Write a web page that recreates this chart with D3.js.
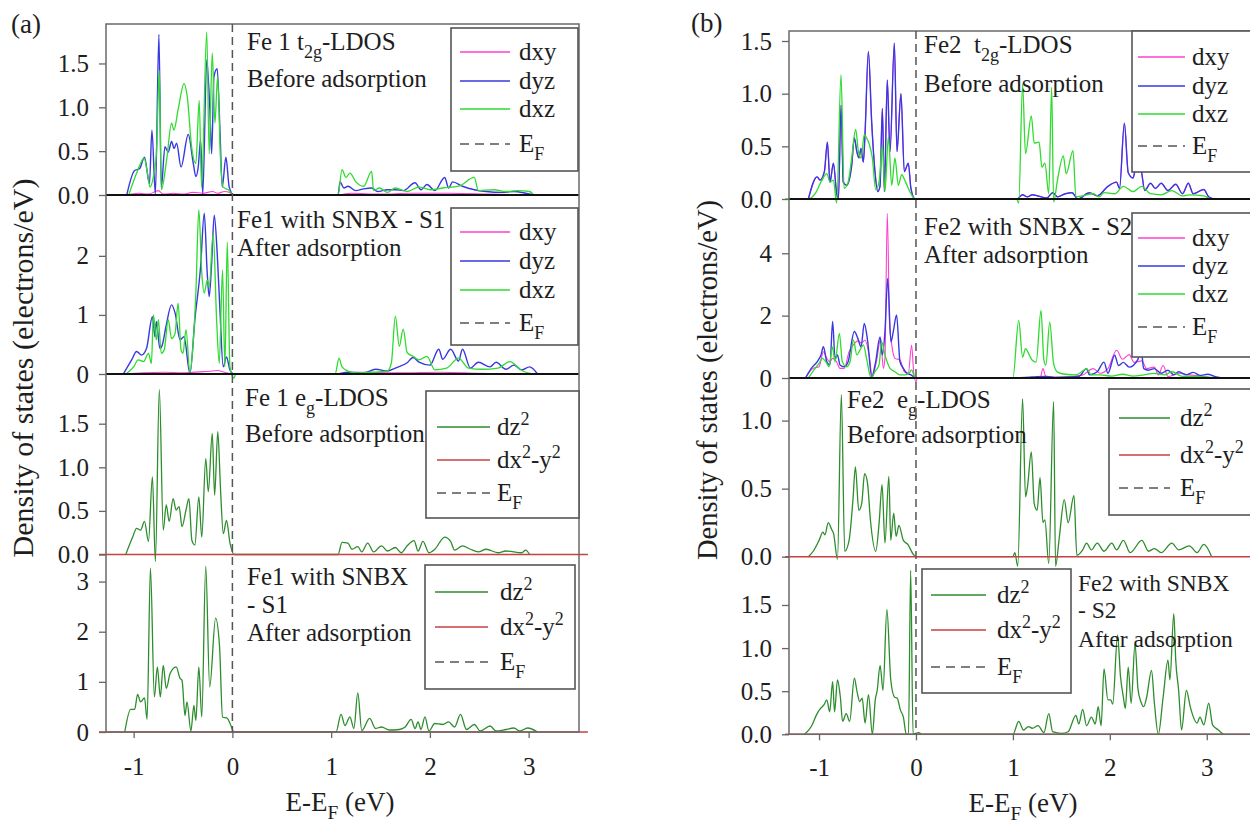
<!DOCTYPE html>
<html>
<head>
<meta charset="utf-8">
<script src="https://cdn.jsdelivr.net/npm/d3@7"></script>
<style>
body{margin:0;background:#fff;}
svg text{font-family:"Liberation Serif","Times New Roman","DejaVu Serif",serif;fill:#1e1e1e;white-space:pre;}
</style>
</head>
<body>
<svg id="chart" width="1250" height="823" font-family="Liberation Serif, Times New Roman, DejaVu Serif, serif"></svg>
<script>
// ---- data (energy E-EF in eV, DOS in electrons/eV) ----
var xTicks = [-1, 0, 1, 2, 3];

// (a) Fe1 t2g before adsorption
var a1Dxy = [[-1.07,0],[-0.95,0.02],[-0.85,0.01],[-0.75,0.05],[-0.70,0.01],[-0.6,0.02],[-0.5,0.01],[-0.4,0.03],[-0.3,0.02],[-0.2,0.04],[-0.15,0.02],[-0.08,0.04],[-0.03,0.03],[0.015,0],[1.07,0],[1.2,0.02],[1.5,0.01],[1.8,0.02],[2.2,0.02],[2.6,0.01],[3.0,0]];
var a1Dyz = [[-1.07,0],[-0.99,0.28],[-0.94,0.30],[-0.89,0.43],[-0.84,0.13],[-0.815,0.74],[-0.78,0.01],[-0.744,1.83],[-0.72,0.09],[-0.683,0.55],[-0.65,0.49],[-0.616,0.61],[-0.59,0.53],[-0.565,0.59],[-0.52,0.32],[-0.447,0.69],[-0.396,0.36],[-0.37,0.21],[-0.346,0.32],[-0.322,0.63],[-0.30,0.01],[-0.26,1.54],[-0.228,0.97],[-0.21,0.47],[-0.187,1.35],[-0.154,1.44],[-0.126,0.74],[-0.103,0.09],[-0.066,0.43],[-0.032,0.09],[0.015,0],
  [1.07,0],[1.09,0.15],[1.13,0.08],[1.17,0.1],[1.25,0.05],[1.33,0.07],[1.41,0.08],[1.47,0.04],[1.57,0.06],[1.65,0.06],[1.73,0.05],[1.85,0.14],[1.91,0.06],[1.97,0.12],[2.05,0.05],[2.15,0.2],[2.19,0.08],[2.23,0.15],[2.33,0.1],[2.45,0.06],[2.57,0.04],[2.73,0.03],[2.85,0.04],[2.97,0.02],[3.05,0]];
var a1Dxz = [[-1.05,0],[-0.97,0.25],[-0.93,0.36],[-0.895,0.42],[-0.86,0.25],[-0.835,0.09],[-0.80,0.21],[-0.77,0.47],[-0.74,1.42],[-0.72,0.06],[-0.666,0.40],[-0.616,0.82],[-0.592,0.74],[-0.55,0.97],[-0.49,1.27],[-0.457,1.12],[-0.413,0.55],[-0.37,0.36],[-0.336,1.08],[-0.312,0.09],[-0.26,1.86],[-0.235,0.47],[-0.204,1.62],[-0.177,0.82],[-0.15,1.35],[-0.12,0.40],[-0.093,0.09],[-0.042,0.06],[0.015,0],
  [1.07,0],[1.11,0.29],[1.15,0.2],[1.19,0.25],[1.25,0.15],[1.33,0.1],[1.41,0.27],[1.43,0.05],[1.49,0.08],[1.57,0.03],[1.65,0.08],[1.77,0.04],[1.89,0.09],[2.01,0.06],[2.13,0.08],[2.29,0.1],[2.45,0.2],[2.49,0.05],[2.65,0.06],[2.77,0.04],[2.89,0.05],[3.01,0.04],[3.05,0]];

// (a) Fe1 t2g after adsorption (SNBX - S1)
var a2Dxy = [[-1.1,0],[-0.9,0.02],[-0.7,0.03],[-0.5,0.02],[-0.3,0.04],[-0.2,0.05],[-0.15,0.06],[-0.08,0.03],[0.015,0],[1.05,0],[1.3,0.03],[1.7,0.02],[2.1,0.03],[2.5,0.01],[2.8,0]];
var a2Dyz = [[-1.105,0],[-1.02,0.24],[-0.97,0.38],[-0.92,0.32],[-0.87,0.43],[-0.81,0.97],[-0.784,0.63],[-0.77,0.89],[-0.734,0.43],[-0.71,0.49],[-0.673,0.80],[-0.616,1.17],[-0.58,1.03],[-0.53,0.58],[-0.49,0.63],[-0.43,0.01],[-0.38,0.92],[-0.322,1.82],[-0.285,2.72],[-0.255,1.71],[-0.235,1.31],[-0.21,1.88],[-0.184,2.69],[-0.154,2.05],[-0.126,1.08],[-0.093,0.12],[-0.06,0.29],[-0.025,0.07],[0.015,0],
  [1.04,0],[1.17,0.03],[1.33,0.02],[1.45,0.08],[1.57,0.05],[1.65,0.1],[1.77,0.19],[1.83,0.28],[1.89,0.2],[2.0,0.15],[2.09,0.42],[2.13,0.25],[2.21,0.42],[2.29,0.22],[2.33,0.42],[2.41,0.1],[2.49,0.2],[2.61,0.12],[2.67,0.2],[2.77,0.08],[2.85,0.15],[2.93,0.07],[3.01,0.12],[3.09,0]];
var a2Dxz = [[-1.08,0],[-1.0,0.12],[-0.955,0.24],[-0.9,0.21],[-0.85,0.35],[-0.82,0.18],[-0.8,1.0],[-0.77,0.58],[-0.75,0.92],[-0.72,0.35],[-0.69,0.41],[-0.65,0.92],[-0.616,0.6],[-0.58,0.69],[-0.55,1.2],[-0.52,0.41],[-0.5,0.35],[-0.47,0.75],[-0.43,0.02],[-0.4,0.46],[-0.37,1.37],[-0.34,2.78],[-0.31,1.71],[-0.285,1.37],[-0.255,1.59],[-0.235,1.48],[-0.194,2.38],[-0.16,0.92],[-0.133,0.18],[-0.1,1.76],[-0.076,0.12],[-0.052,2.23],[-0.025,0.12],[0.015,-0.07],[0.035,0],
  [1.04,0],[1.08,0.27],[1.11,0.12],[1.17,0.05],[1.25,0.02],[1.41,0.03],[1.57,0.05],[1.61,0.19],[1.65,0.98],[1.69,0.47],[1.73,0.76],[1.77,0.36],[1.83,0.3],[1.89,0.24],[1.97,0.3],[2.05,0.07],[2.17,0.1],[2.29,0.27],[2.39,0.1],[2.53,0.08],[2.69,0.1],[2.81,0.21],[2.93,0.06],[3.05,0]];

// (a) Fe1 eg before / after
var a3Dz2 = [[-1.08,0],[-1.01,0.2],[-0.97,0.3],[-0.93,0.28],[-0.89,0.38],[-0.85,0.15],[-0.81,0.89],[-0.78,-0.08],[-0.74,1.89],[-0.70,0.28],[-0.67,0.57],[-0.64,0.38],[-0.6,0.64],[-0.57,0.51],[-0.54,0.55],[-0.51,0.32],[-0.47,0.51],[-0.44,0.64],[-0.41,0.16],[-0.38,0.11],[-0.34,0.66],[-0.31,0.2],[-0.27,1.1],[-0.244,0.72],[-0.204,1.39],[-0.18,0.68],[-0.148,1.41],[-0.12,0.74],[-0.092,0.24],[-0.06,0.39],[-0.024,0.13],[0.016,0],
  [1.07,0],[1.11,0.14],[1.17,0.13],[1.21,0.06],[1.27,0.09],[1.31,0.03],[1.37,0.13],[1.43,0.03],[1.51,0.1],[1.57,0.04],[1.65,0.08],[1.71,0.02],[1.77,0.1],[1.84,0.16],[1.88,0.04],[1.93,0.15],[1.99,0.02],[2.05,0.06],[2.15,0.2],[2.21,0.15],[2.25,0.05],[2.33,0.1],[2.41,0.06],[2.49,0.03],[2.57,0.06],[2.69,0.02],[2.77,0.04],[2.93,0.02],[2.97,0.05],[3.01,0]];
var a3Dx2y2 = [[-1.35,0],[3.6,0]];
var a4Dz2 = [[-1.09,0],[-1.03,0.45],[-0.99,0.45],[-0.96,0.75],[-0.93,0.6],[-0.89,0.68],[-0.864,0.25],[-0.83,3.27],[-0.79,0.7],[-0.76,1.3],[-0.73,0.7],[-0.70,1.33],[-0.67,0.87],[-0.63,1.17],[-0.57,1.3],[-0.53,1.07],[-0.51,1.03],[-0.48,0.33],[-0.46,0.6],[-0.42,0.02],[-0.39,0.53],[-0.37,0.23],[-0.34,1.3],[-0.31,0.3],[-0.27,3.31],[-0.23,0.9],[-0.17,2.27],[-0.13,1.7],[-0.1,0.3],[-0.05,0.27],[-0.024,0.17],[0.016,0],
  [1.05,0],[1.1,0.35],[1.14,0.13],[1.19,0.3],[1.23,0.07],[1.27,0.78],[1.31,0.03],[1.39,0.27],[1.45,0.07],[1.51,0.1],[1.59,0.04],[1.69,0.05],[1.75,0.1],[1.81,0.25],[1.85,0.07],[1.88,0.2],[1.91,0.05],[1.95,0.3],[1.99,0.02],[2.05,0.17],[2.13,0.15],[2.19,0.2],[2.25,0.1],[2.31,0.35],[2.37,0.05],[2.45,0.15],[2.51,0.02],[2.61,0.12],[2.67,0.02],[2.77,0.05],[2.85,0.08],[2.91,0.02],[2.99,0.08],[3.09,0]];
var a4Dx2y2 = [[-1.35,0],[3.6,0]];

// (b) Fe2 t2g before adsorption (dxy lies under dyz)
var b1Dyz = [[-1.11,0],[-1.02,0.21],[-0.99,0.18],[-0.945,0.26],[-0.914,0.54],[-0.887,0.16],[-0.852,0.34],[-0.818,0.05],[-0.8,0],[-0.773,0.89],[-0.75,0.16],[-0.715,0.13],[-0.663,0.32],[-0.636,0.58],[-0.61,0.45],[-0.588,0.39],[-0.567,0.48],[-0.543,0.35],[-0.526,0.61],[-0.491,1.4],[-0.457,0.73],[-0.423,0.26],[-0.395,0.07],[-0.371,0.12],[-0.347,0.86],[-0.326,0.07],[-0.296,1.13],[-0.268,0.45],[-0.223,1.48],[-0.196,0.45],[-0.155,1.0],[-0.12,0.26],[-0.079,0.34],[-0.052,0.1],[-0.01,0],
  [1.04,0],[1.1,0.04],[1.15,0.02],[1.2,0.04],[1.35,0.01],[1.41,0.06],[1.46,0.02],[1.54,0.05],[1.61,0.06],[1.67,0],[1.79,0.06],[1.87,0.03],[1.98,0.12],[2.07,0.16],[2.1,0.1],[2.15,0.72],[2.19,0.25],[2.24,0.2],[2.27,0.3],[2.32,0.28],[2.36,0.08],[2.42,0.15],[2.47,0.1],[2.53,0.15],[2.6,0.08],[2.68,0.14],[2.75,0.05],[2.81,0.15],[2.86,0.05],[2.97,0.09],[3.02,0.02],[3.08,0]];
var b1Dxy = b1Dyz;
var b1Dxz = [[-1.35,0],[-1.11,0],[-1.04,0.05],[-0.97,0.18],[-0.92,0.24],[-0.887,0.16],[-0.852,0.18],[-0.818,-0.04],[-0.773,1.18],[-0.742,0.1],[-0.7,0.16],[-0.663,0.39],[-0.622,0.66],[-0.594,0.45],[-0.567,0.39],[-0.533,0.61],[-0.51,0.58],[-0.485,0.53],[-0.45,0.39],[-0.416,0.09],[-0.381,0.16],[-0.347,0.51],[-0.32,0.07],[-0.285,0.59],[-0.25,0.13],[-0.217,0.39],[-0.182,0.13],[-0.148,0.23],[-0.107,0.16],[-0.052,0.05],[-0.01,0],
  [1.04,0],[1.06,-0.04],[1.1,1.09],[1.13,0.43],[1.19,0.79],[1.22,0.53],[1.27,0.54],[1.3,0.3],[1.33,0.34],[1.37,0.05],[1.4,1.06],[1.42,-0.03],[1.46,0.18],[1.52,0.41],[1.55,0.24],[1.62,0.46],[1.65,0.02],[1.72,0.03],[1.83,0.05],[1.89,0.02],[1.94,0.06],[2.05,0.05],[2.14,0.12],[2.24,0.07],[2.33,0.12],[2.42,0.05],[2.53,0.04],[2.64,0.08],[2.75,0.03],[2.82,0.04],[2.97,0.03],[3.05,0],[3.6,0]];

// (b) Fe2 t2g after adsorption (SNBX - S2)
var b2Dxy = [[-1.14,0],[-1.06,0.31],[-1.0,0.36],[-0.955,0.84],[-0.92,0.63],[-0.887,0.52],[-0.86,0.63],[-0.82,0.52],[-0.784,0.31],[-0.74,0.31],[-0.69,0.84],[-0.646,1.06],[-0.6,1.19],[-0.56,1.12],[-0.526,1.22],[-0.484,0.74],[-0.45,0.04],[-0.405,0.58],[-0.364,1.27],[-0.337,0.31],[-0.32,0.63],[-0.296,5.28],[-0.272,1.7],[-0.25,1.06],[-0.217,0.63],[-0.165,0.58],[-0.12,0.2],[-0.079,0.15],[-0.045,1.06],[-0.024,0.2],[0.0,-0.12],[0.014,0],
  [1.28,0],[1.31,0.3],[1.34,0.05],[1.53,0.02],[1.72,0.1],[1.83,0.3],[1.9,0.15],[1.98,0.3],[2.07,0.89],[2.13,0.6],[2.2,0.75],[2.25,0.5],[2.33,0.55],[2.38,0.3],[2.46,0.35],[2.5,0.1],[2.55,0.4],[2.6,0.05],[2.71,0.15],[2.82,0.1],[2.97,0.05],[3.05,0]];
var b2Dyz = [[-1.14,0],[-1.08,0.31],[-1.02,0.52],[-0.98,0.74],[-0.955,1.0],[-0.92,0.52],[-0.887,0.42],[-0.86,1.81],[-0.835,0.63],[-0.81,0.74],[-0.784,0.42],[-0.74,0.36],[-0.7,0.52],[-0.636,1.49],[-0.6,1.27],[-0.567,1.0],[-0.533,1.75],[-0.498,1.17],[-0.457,0.04],[-0.416,0.52],[-0.371,1.32],[-0.347,0.74],[-0.32,1.49],[-0.292,3.19],[-0.258,1.16],[-0.234,1.49],[-0.2,2.02],[-0.165,0.52],[-0.13,0.31],[-0.096,0.16],[-0.052,0.1],[0,0],
  [1.0,0],[1.2,0.03],[1.35,0.05],[1.43,0.02],[1.57,0.03],[1.68,0.05],[1.76,0.3],[1.79,0.1],[1.87,0.2],[1.94,0.51],[1.98,0.15],[2.05,0.73],[2.09,0.4],[2.14,0.5],[2.2,0.35],[2.29,0.6],[2.32,0.99],[2.35,0.3],[2.4,0.25],[2.46,0.3],[2.53,0.15],[2.6,0.25],[2.66,0.1],[2.71,0.2],[2.79,0.1],[2.86,0.18],[2.93,0.08],[3.01,0.12],[3.08,0.05],[3.16,0]];
var b2Dxz = [[-1.11,0],[-1.04,0.31],[-1.0,0.47],[-0.966,0.63],[-0.93,0.52],[-0.897,0.36],[-0.862,1.0],[-0.835,0.52],[-0.79,1.43],[-0.76,0.52],[-0.715,0.36],[-0.68,0.52],[-0.646,1.22],[-0.61,0.74],[-0.577,0.9],[-0.543,1.06],[-0.51,0.63],[-0.464,0.01],[-0.423,0.2],[-0.381,0.42],[-0.354,1.16],[-0.32,0.74],[-0.268,0.31],[-0.217,0.2],[-0.165,0.1],[-0.113,0.1],[-0.072,0.15],[-0.045,0.26],[-0.01,0.01],
  [1.0,0],[1.06,1.85],[1.1,0.67],[1.13,0.94],[1.17,0.73],[1.2,0.57],[1.24,0.51],[1.29,2.17],[1.32,0.57],[1.34,0.41],[1.38,1.79],[1.42,0.46],[1.46,0.19],[1.54,0.12],[1.65,0.1],[1.72,0.22],[1.76,0.3],[1.81,0.1],[1.9,0.1],[2.02,0.06],[2.13,0.12],[2.24,0.06],[2.35,0.1],[2.46,0.15],[2.57,0.1],[2.64,0.2],[2.75,0.05],[2.9,0.05],[3.05,0.02],[3.12,0]];

// (b) Fe2 eg before / after
var b3Dz2 = [[-1.11,0],[-1.06,0.04],[-1.0,0.12],[-0.96,0.18],[-0.94,0.16],[-0.905,0.25],[-0.87,0.2],[-0.85,0.17],[-0.81,-0.02],[-0.77,1.19],[-0.735,0.04],[-0.69,0.12],[-0.65,0.42],[-0.625,0.66],[-0.59,0.34],[-0.56,0.39],[-0.53,0.61],[-0.5,0.54],[-0.47,0.27],[-0.415,0.04],[-0.38,0.25],[-0.35,0.53],[-0.32,0.1],[-0.28,0.59],[-0.26,0.12],[-0.23,0.32],[-0.205,0.15],[-0.176,0.23],[-0.13,0.12],[-0.084,0.09],[-0.03,0.02],[0,0],
  [1.0,0],[1.02,0.03],[1.05,-0.07],[1.1,1.16],[1.13,0.44],[1.15,0.51],[1.19,0.77],[1.22,0.39],[1.25,0.34],[1.28,0.58],[1.31,0.25],[1.33,0.27],[1.37,-0.05],[1.42,1.14],[1.44,-0.07],[1.48,0.15],[1.53,0.42],[1.57,0.25],[1.63,0.45],[1.66,0.01],[1.72,0.05],[1.76,0.1],[1.81,0.05],[1.87,0.1],[1.94,0.04],[2.02,0.1],[2.07,0.05],[2.14,0.12],[2.21,0.03],[2.33,0.12],[2.4,0.04],[2.46,0.06],[2.53,0.03],[2.64,0.1],[2.71,0.05],[2.82,0.08],[2.9,0.03],[2.97,0.09],[3.05,0]];
var b3Dx2y2 = [[-1.35,0],[3.6,0]];
var b4Dz2 = [[-1.15,0],[-1.08,0.09],[-1.02,0.24],[-0.985,0.3],[-0.95,0.34],[-0.92,0.4],[-0.89,0.26],[-0.86,0.61],[-0.84,0.26],[-0.81,0.63],[-0.78,0.43],[-0.757,0.15],[-0.72,0.24],[-0.684,0.15],[-0.636,0.65],[-0.607,0.49],[-0.58,0.38],[-0.555,0.42],[-0.525,0.13],[-0.49,0.46],[-0.45,0],[-0.42,0.4],[-0.4,0.51],[-0.37,0.8],[-0.34,0.51],[-0.3,1.45],[-0.26,0.63],[-0.22,0.43],[-0.195,0.42],[-0.16,0.28],[-0.13,0.2],[-0.1,0],[-0.077,0],[-0.055,1.9],[-0.03,0],[0.03,0.02],[0.06,0],
  [1.0,0],[1.06,0.15],[1.11,0.05],[1.16,0.09],[1.2,0.07],[1.26,0.1],[1.32,0.02],[1.37,0.24],[1.41,0.03],[1.5,0.01],[1.57,0.03],[1.65,0.22],[1.68,0.12],[1.72,0.29],[1.76,0.1],[1.81,0.2],[1.85,0.12],[1.88,0.32],[1.91,0.1],[1.94,0.76],[1.98,0.4],[2.01,0.4],[2.03,0.35],[2.08,1.15],[2.11,0.67],[2.14,0.43],[2.16,0.3],[2.19,0.78],[2.22,0.36],[2.26,1.05],[2.29,0.53],[2.32,0.38],[2.35,0.32],[2.38,0.43],[2.43,0.74],[2.46,0.36],[2.5,0],[2.55,0.43],[2.6,0.86],[2.62,0.63],[2.66,1.4],[2.68,0.86],[2.71,0.51],[2.74,0.05],[2.79,0.51],[2.83,0.32],[2.85,0.24],[2.9,0.13],[2.93,0.2],[2.97,0.11],[3.02,0.36],[3.06,0.11],[3.12,0.05],[3.17,0]];
var b4Dx2y2 = [[-1.35,0],[3.6,0]];

// y tick labels per sub panel
var a1Ticks = [0, 0.5, 1.0, 1.5], a2Ticks = [0, 1, 2], a3Ticks = [0, 0.5, 1.0, 1.5], a4Ticks = [0, 1, 2, 3];
var b1Ticks = [0, 0.5, 1.0, 1.5], b2Ticks = [0, 2, 4], b3Ticks = [0, 0.5, 1.0], b4Ticks = [0, 0.5, 1.0, 1.5];

// ---- styling ----
var FONT = "Liberation Serif, Times New Roman, DejaVu Serif, serif";
var colors = {dxy:"#ff3fcf", dyz:"#3838e2", dxz:"#2edb2e", dz2:"#2d8d2d", dx2y2:"#c84040"};
var widths = {dxy:1.1, dyz:1.4, dxz:1.3, dz2:1.3, dx2y2:1.5};
var lbl = {
	dxy: [["dxy"]], dyz: [["dyz"]], dxz: [["dxz"]],
	dz2: [["dz"],["2","sup"]], dx2y2: [["dx"],["2","sup"],["-y"],["2","sup"]],
	ef: [["E"],["F","sub"]]
};
var t2gKeys = ["dxy","dyz","dxz"], egKeys = ["dz2","dx2y2"];

var panels = [
	{label:"(a)", labelX:11, labelY:33, left:106, right:579, xDomain:[-1.28,3.51], titleX:340, titleY:811,
	 yTitleX:33, yTitleY:368, yTitleSize:30, tickGap:25,
	 subs:[
		{kind:"t2g", top:24, y0:195, max:1.95, ticks:a1Ticks, data:{dxy:a1Dxy, dyz:a1Dyz, dxz:a1Dxz},
		 text:{x:247, lines:[[50,[["Fe 1 t"],["2g","sub"],["-LDOS"]]],[87,[["Before adsorption"]]]]},
		 leg:{x:451, y:28, w:127, h:143, l1:460, l2:510, tx:519, rows:[52,81,109,144]}},
		{kind:"t2g", top:195, y0:374, max:3.03, ticks:a2Ticks, data:{dxy:a2Dxy, dyz:a2Dyz, dxz:a2Dxz},
		 text:{x:237, lines:[[228,[["Fe1 with SNBX - S1"]]],[256,[["After adsorption"]]]]},
		 leg:{x:451, y:208, w:127, h:137, l1:460, l2:510, tx:519, rows:[232,261,290,323]}},
		{kind:"eg", top:374, y0:554.5, max:2.07, ticks:a3Ticks, data:{dz2:a3Dz2, dx2y2:a3Dx2y2},
		 text:{x:245, lines:[[406,[["Fe 1 e"],["g","sub"],["-LDOS"]]],[442,[["Before adsorption"]]]]},
		 leg:{x:426, y:391, w:153, h:127, l1:437, l2:490, tx:497, rows:[427,460,493]}},
		{kind:"eg", top:554.5, y0:732, max:3.54, ticks:a4Ticks, data:{dz2:a4Dz2, dx2y2:a4Dx2y2},
		 text:{x:247, lines:[[585,[["Fe1 with SNBX"]]],[613,[["- S1"]]],[641,[["After adsorption"]]]]},
		 leg:{x:425, y:565, w:150, h:124, l1:435, l2:488, tx:500, rows:[592,627,662]}}
	]},
	{label:"(b)", labelX:691, labelY:32, left:789, right:1262, xDomain:[-1.31,3.57], titleX:1023, titleY:812,
	 yTitleX:717, yTitleY:380, yTitleSize:28.5, tickGap:24,
	 subs:[
		{kind:"t2g", top:31, y0:199, max:1.595, ticks:b1Ticks, data:{dxy:b1Dxy, dyz:b1Dyz, dxz:b1Dxz},
		 text:{x:924, lines:[[53,[["Fe2  t"],["2g","sub"],["-LDOS"]]],[92,[["Before adsorption"]]]]},
		 leg:{x:1132, y:31, w:130, h:141, l1:1138, l2:1185, tx:1192, rows:[57,86,114,146]}},
		{kind:"t2g", top:199, y0:378, max:5.74, ticks:b2Ticks, data:{dxy:b2Dxy, dyz:b2Dyz, dxz:b2Dxz},
		 text:{x:924, lines:[[235,[["Fe2 with SNBX - S2"]]],[263,[["After adsorption"]]]]},
		 leg:{x:1132, y:213, w:130, h:144, l1:1138, l2:1185, tx:1192, rows:[238,266,294,327]}},
		{kind:"eg", top:378, y0:556.7, max:1.313, ticks:b3Ticks, data:{dz2:b3Dz2, dx2y2:b3Dx2y2},
		 text:{x:847, lines:[[408,[["Fe2  e"],["g","sub"],["-LDOS"]]],[443,[["Before adsorption"]]]]},
		 leg:{x:1109, y:389, w:153, h:126, l1:1119, l2:1170, tx:1180, rows:[418,455,488]}},
		{kind:"eg", top:556.7, y0:734.3, max:2.06, ticks:b4Ticks, data:{dz2:b4Dz2, dx2y2:b4Dx2y2},
		 text:{x:1078, size:23.5, lines:[[591,[["Fe2 with SNBX"]]],[618,[["- S2"]]],[647,[["After adsorption"]]]]},
		 leg:{x:922, y:569, w:149, h:124, l1:931, l2:986, tx:997, rows:[595,630,667]}}
	]}
];

var svg = d3.select("#chart");

// text with sub/superscript pieces
function rich(g, x, y, parts, size, anchor){
	var t = g.append("text").attr("x", x).attr("y", y).attr("font-size", size)
		.attr("font-family", FONT).attr("text-anchor", anchor || "start");
	var shift = 0;
	parts.forEach(function(p){
		var want = p[1] === "sub" ? size * 0.3 : (p[1] === "sup" ? -size * 0.42 : 0);
		t.append("tspan").text(p[0]).attr("dy", want - shift)
			.attr("font-size", p[1] ? size * 0.72 : size);
		shift = want;
	});
	return t;
}

function drawLegend(g, L, keys){
	g.append("rect").attr("x", L.x).attr("y", L.y).attr("width", L.w).attr("height", L.h)
		.attr("fill", "#fff").attr("stroke", "#555").attr("stroke-width", 1.6);
	keys.concat(["ef"]).forEach(function(k, i){
		var yy = L.rows[i];
		g.append("line").attr("x1", L.l1).attr("x2", L.l2).attr("y1", yy).attr("y2", yy)
			.attr("stroke", k === "ef" ? "#555" : colors[k]).attr("stroke-width", 1.5)
			.attr("stroke-dasharray", k === "ef" ? "9,6" : null);
		rich(g, L.tx, yy + 8, lbl[k], 25);
	});
}

function drawPanel(p){
	var g = svg.append("g");
	var x = d3.scaleLinear().domain(p.xDomain).range([p.left, p.right]);
	var top = p.subs[0].top, bottom = p.subs[p.subs.length - 1].y0;

	p.subs.forEach(function(s){
		var y = d3.scaleLinear().domain([0, s.max]).range([s.y0, s.top]);
		var line = d3.line().x(function(d){ return x(d[0]); }).y(function(d){ return y(d[1]); })
			.curve(d3.curveMonotoneX);
		var keys = s.kind === "t2g" ? t2gKeys : egKeys;
		keys.forEach(function(k){
			g.append("path").datum(s.data[k]).attr("d", line).attr("fill", "none")
				.attr("stroke", colors[k]).attr("stroke-width", widths[k]).attr("stroke-linejoin", "round");
		});
		if (s.kind === "t2g"){
			g.append("line").attr("x1", p.left).attr("x2", p.right).attr("y1", y(0)).attr("y2", y(0))
				.attr("stroke", "#111").attr("stroke-width", 2);
		}
		var fmt = s.ticks.some(function(t){ return t % 1 !== 0; }) ? d3.format(".1f") : d3.format("d");
		var ax = g.append("g").attr("transform", "translate(" + p.left + ",0)")
			.call(d3.axisLeft(y).tickValues(s.ticks).tickSize(7).tickPadding(10).tickFormat(fmt));
		ax.select(".domain").remove();
		ax.attr("font-size", 25).attr("font-family", FONT);
		ax.selectAll(".tick line").attr("stroke", "#666").attr("stroke-width", 1.3);
		ax.selectAll(".tick text").attr("fill", "#1e1e1e");

		s.text.lines.forEach(function(l){ rich(g, s.text.x, l[0], l[1], s.text.size || 25); });
	});

	// frame
	g.append("rect").attr("x", p.left).attr("y", top).attr("width", p.right - p.left).attr("height", bottom - top)
		.attr("fill", "none").attr("stroke", "#6a6a6a").attr("stroke-width", 1.5);

	// Fermi level
	g.append("line").attr("x1", x(0)).attr("x2", x(0)).attr("y1", top).attr("y2", bottom)
		.attr("stroke", "#555").attr("stroke-width", 1.5).attr("stroke-dasharray", "8,5");

	p.subs.forEach(function(s){
		drawLegend(g, s.leg, s.kind === "t2g" ? t2gKeys : egKeys);
	});

	var xa = g.append("g").attr("transform", "translate(0," + bottom + ")")
		.call(d3.axisBottom(x).tickValues(xTicks).tickSize(6).tickPadding(p.tickGap - 6)
			.tickFormat(function(d){ return String(d); }));
	xa.select(".domain").remove();
	xa.attr("font-size", 25).attr("font-family", FONT);
	xa.selectAll(".tick line").attr("stroke", "#666").attr("stroke-width", 1.3);
	xa.selectAll(".tick text").attr("fill", "#1e1e1e");

	rich(g, p.titleX, p.titleY, [["E-E"],["F","sub"],[" (eV)"]], 27, "middle");

	g.append("text").attr("transform", "translate(" + p.yTitleX + "," + p.yTitleY + ") rotate(-90)")
		.attr("text-anchor", "middle").attr("font-size", p.yTitleSize).attr("font-family", FONT)
		.text("Density of states (electrons/eV)");

	g.append("text").attr("x", p.labelX).attr("y", p.labelY).attr("font-size", 27)
		.attr("font-family", FONT).text(p.label);
}

panels.forEach(drawPanel);
</script>
</body>
</html>
